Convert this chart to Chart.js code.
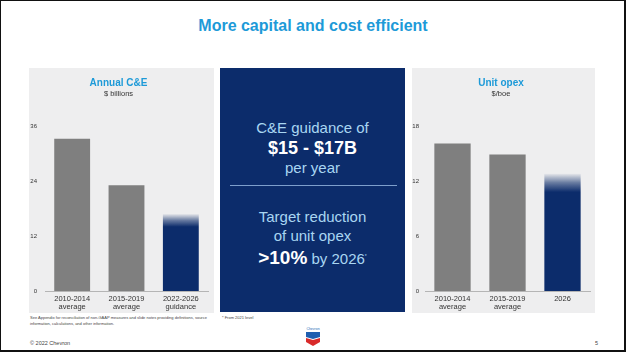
<!DOCTYPE html>
<html lang="en">
<head>
  <meta charset="UTF-8">
  <title>More capital and cost efficient</title>
  <script src="https://cdn.jsdelivr.net/npm/chart.js"></script>
  <style>
    html, body { margin: 0; padding: 0; background: #fff; }
    body { width: 626px; height: 353px; position: relative; overflow: hidden; font-family: "Liberation Sans", Arial, sans-serif; }
    .frame { position: absolute; left: 0; top: 0; width: 623px; height: 349px; border-left: 1px solid #111; border-top: 1px solid #111; border-right: 2px solid #111; border-bottom: 2px solid #111; }
    .title { position: absolute; left: 0; width: 626px; top: 17px; text-align: center; font-weight: bold; font-size: 16px; color: #1d9ad8; }
    .panel { position: absolute; top: 68px; height: 245px; background: #eeeeef; }
    .mid { position: absolute; left: 220px; top: 68px; width: 185px; height: 244px; background: #0c2c6b; color: #a9d6f2; text-align: center; }
    .mid .line { position: absolute; left: 0; width: 185px; font-size: 15px; line-height: 20px; }
    .mid b { color: #fff; }
    .mid hr { position: absolute; left: 10px; width: 167px; top: 117px; margin: 0; border: 0; border-top: 1px solid #7e9fcc; }
    .note { position: absolute; font-size: 4px; line-height: 6px; color: #444; }
    .foot { position: absolute; font-size: 5.5px; color: #444; }
  </style>
</head>
<body>
  <div class="frame"></div>
  <div class="title">More capital and cost efficient</div>

  <div class="panel" style="left:29px;width:185px;"><canvas id="capexChart" width="185" height="245"></canvas></div>
  <div class="panel" style="left:412px;width:183px;"><canvas id="opexChart" width="183" height="245"></canvas></div>

  <div class="mid">
    <div class="line" style="top:50px;">C&amp;E guidance of</div>
    <div class="line" style="top:70px;font-size:18px;"><b>$15 - $17B</b></div>
    <div class="line" style="top:90px;">per year</div>
    <hr>
    <div class="line" style="top:139px;">Target reduction</div>
    <div class="line" style="top:158px;">of unit opex</div>
    <div class="line" style="top:178px;"><b style="font-size:19px;">&gt;10%</b> by 2026<sup style="font-size:5px;">*</sup></div>
  </div>

  <div class="note" style="left:30px;top:315px;width:185px;">See Appendix for reconciliation of non-GAAP measures and slide notes providing definitions, source information, calculations, and other information.</div>
  <div class="note" style="left:222px;top:315px;">* From 2021 level</div>
  <div class="foot" style="left:30px;top:340px;">© 2022 Chevron</div>
  <div class="foot" style="left:595px;top:340px;">5</div>

  <svg style="position:absolute;left:304px;top:326px;" width="18" height="21" viewBox="0 0 18 21">
    <text x="9" y="4" text-anchor="middle" font-size="3.5" fill="#2a6bb5" font-family="Liberation Sans">Chevron</text>
    <path d="M2 6 L16 6 L16 11 L9 13 L2 11 Z" fill="#1f5fb0"/>
    <path d="M2 12 L9 14 L16 12 L16 16 L9 20 L2 16 Z" fill="#d92a2a"/>
  </svg>

  <script>
    // Annual C&E, $ billions
    const capexLabels = [['2010-2014', 'average'], ['2015-2019', 'average'], ['2022-2026', 'guidance']];
    const capexValues = [33.2, 23.1, 16.8];
    const capexTicks = [0, 12, 24, 36];
    const capexSolidFrom = 14.0;   // where the guidance bar stops fading

    // Unit opex, $/boe
    const opexLabels = [['2010-2014', 'average'], ['2015-2019', 'average'], '2026'];
    const opexValues = [16.1, 14.9, 12.8];
    const opexTicks = [0, 6, 12, 18];
    const opexSolidFrom = 10.8;

    const gray = '#7f7f7f';
    const navy = '#0c2c6b';

    function fadeBar(solidFrom) {
      return function(context) {
        if (context.dataIndex !== context.dataset.data.length - 1) return gray;
        const chart = context.chart;
        const y = chart.scales.y;
        if (!chart.chartArea || !y) return navy;
        const top = y.getPixelForValue(context.raw);
        const solid = y.getPixelForValue(solidFrom);
        const g = chart.ctx.createLinearGradient(0, top, 0, solid);
        g.addColorStop(0, 'rgba(12,44,107,0.03)');
        g.addColorStop(0.5, 'rgba(12,44,107,0.6)');
        g.addColorStop(1, navy);
        return g;
      };
    }

    function makeChart(id, labels, values, ticks, solidFrom, title, subtitle, yWidth, yPad, padRight) {
      const ctx = document.getElementById(id).getContext('2d');
      return new Chart(ctx, {
        type: 'bar',
        data: {
          labels: labels,
          datasets: [{
            data: values,
            backgroundColor: fadeBar(solidFrom),
            borderWidth: 0,
            barPercentage: 0.66,
            categoryPercentage: 1
          }]
        },
        options: {
          responsive: false,
          animation: false,
          devicePixelRatio: 1,
          layout: { padding: { left: 0, right: padRight, bottom: 0 } },
          plugins: {
            legend: { display: false },
            tooltip: { enabled: false },
            title: {
              display: true,
              text: title,
              color: '#1d9ad8',
              font: { family: 'Liberation Sans', size: 10, weight: 'bold' },
              padding: { top: 9, bottom: 0 }
            },
            subtitle: {
              display: true,
              text: subtitle,
              color: '#333',
              font: { family: 'Liberation Sans', size: 7.5 },
              padding: { top: 0, bottom: 28 }
            }
          },
          scales: {
            x: {
              grid: { display: false, drawTicks: false },
              border: { display: true, color: '#b5b5b5', width: 1 },
              ticks: { color: '#333', font: { family: 'Liberation Sans', size: 7.5, lineHeight: 1.05 }, padding: 4, maxRotation: 0, autoSkip: false },
              afterFit: function(s) { s.height = 22; }
            },
            y: {
              min: 0,
              max: ticks[ticks.length - 1],
              afterBuildTicks: function(s) { s.ticks = ticks.map(v => ({ value: v })); },
              grid: { display: false, drawTicks: false },
              border: { display: false },
              ticks: { color: '#333', font: { family: 'Liberation Sans', size: 6 }, padding: yPad },
              afterFit: function(s) { s.width = yWidth; }
            }
          }
        }
      });
    }

    makeChart('capexChart', capexLabels, capexValues, capexTicks, capexSolidFrom, 'Annual C&E', '$ billions', 16, 8, 6);
    makeChart('opexChart', opexLabels, opexValues, opexTicks, opexSolidFrom, 'Unit opex', '$/boe', 13, 6, 5);
  </script>
</body>
</html>
